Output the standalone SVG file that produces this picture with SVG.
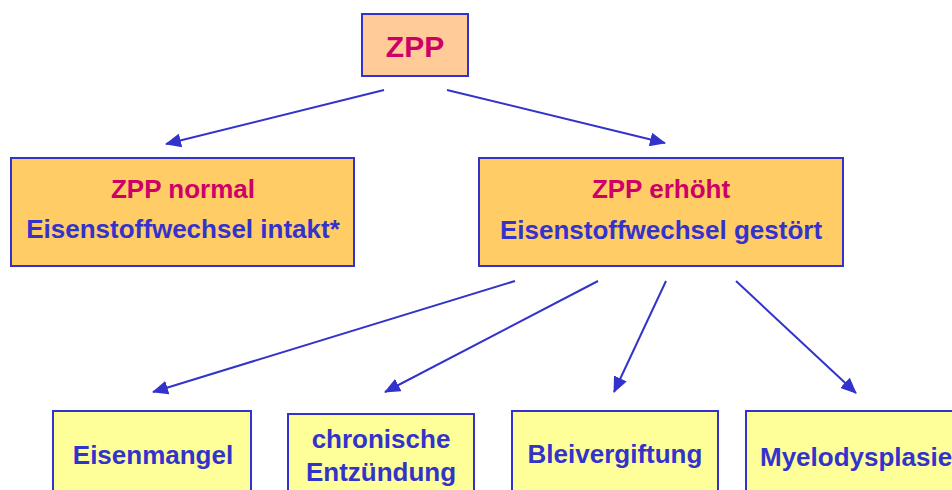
<svg xmlns="http://www.w3.org/2000/svg" width="952" height="490" viewBox="0 0 952 490">
<style>
.box{stroke:#3333CC;stroke-width:2}
.t{font-family:"Liberation Sans",Arial,sans-serif;font-weight:bold;font-size:26px;text-anchor:middle}
.r{fill:#CC0066}
.b{fill:#3333CC}
.c{stroke:#3333CC;stroke-width:2;fill:none;marker-end:url(#ah)}
</style>
<defs>
<marker id="ah" markerUnits="userSpaceOnUse" markerWidth="16" markerHeight="14" refX="15" refY="7" orient="auto">
<path d="M0,0 L16,7 L0,14 Z" fill="#3333CC"/>
</marker>
</defs>
<rect width="952" height="490" fill="#FFFFFF"/>
<g id="connectors">
<line class="c" x1="384" y1="90" x2="166" y2="144"/>
<line class="c" x1="447" y1="90" x2="665" y2="143"/>
<line class="c" x1="515" y1="281" x2="153" y2="392"/>
<line class="c" x1="598" y1="281" x2="385" y2="392"/>
<line class="c" x1="666" y1="281" x2="614" y2="392"/>
<line class="c" x1="736" y1="281" x2="856" y2="393"/>
</g>
<g id="zpp">
<rect class="box" x="362" y="14" width="106" height="62" fill="#FFCC99"/>
<text class="t r" x="415" y="57" style="font-size:30px">ZPP</text>
</g>
<g id="zpp-normal">
<rect class="box" x="11" y="158" width="343" height="108" fill="#FFCC66"/>
<text class="t r" x="183" y="198">ZPP normal</text>
<text class="t b" x="183" y="238">Eisenstoffwechsel intakt*</text>
</g>
<g id="zpp-erhoeht">
<rect class="box" x="479" y="158" width="364" height="108" fill="#FFCC66"/>
<text class="t r" x="661" y="198">ZPP erhöht</text>
<text class="t b" x="661" y="239">Eisenstoffwechsel gestört</text>
</g>
<g id="eisenmangel">
<rect class="box" x="53" y="411" width="198" height="90" fill="#FFFF99"/>
<text class="t b" x="153" y="464">Eisenmangel</text>
</g>
<g id="entzuendung">
<rect class="box" x="288" y="414" width="186" height="90" fill="#FFFF99"/>
<text class="t b" x="381" y="448">chronische</text>
<text class="t b" x="381" y="481">Entzündung</text>
</g>
<g id="blei">
<rect class="box" x="512" y="411" width="206" height="90" fill="#FFFF99"/>
<text class="t b" x="615" y="463">Bleivergiftung</text>
</g>
<g id="myelo">
<rect class="box" x="746" y="411" width="220" height="90" fill="#FFFF99"/>
<text class="t b" x="760" y="466" style="text-anchor:start">Myelodysplasie</text>
</g>
</svg>
